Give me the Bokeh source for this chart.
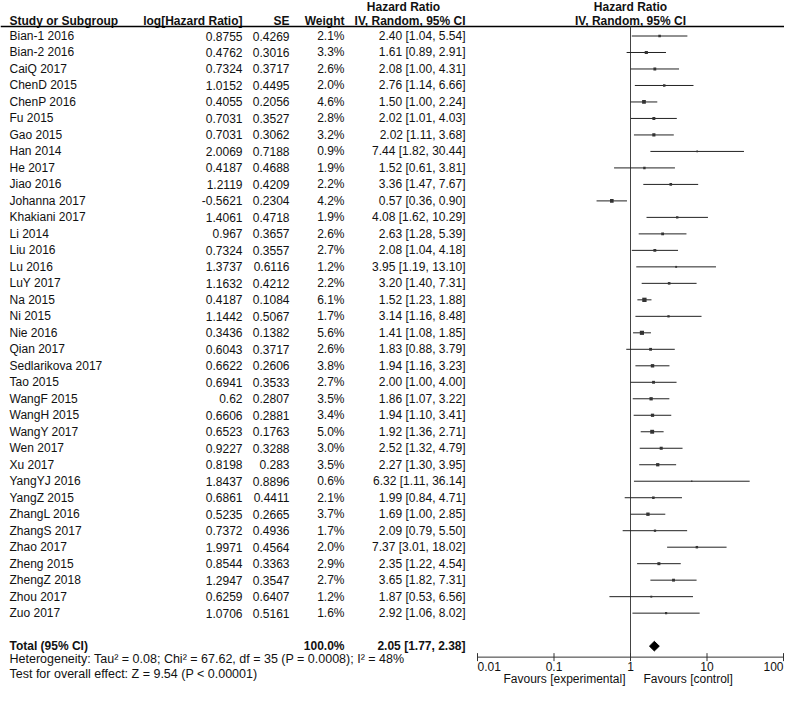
import numpy as np
from bokeh.plotting import figure
from bokeh.models import Range1d, LogScale, ColumnDataSource
from bokeh.core.properties import value
from bokeh.embed import file_html
from bokeh.resources import INLINE

# ---------------- data ----------------
studies = ["Bian-1 2016", "Bian-2 2016", "CaiQ 2017", "ChenD 2015", "ChenP 2016",
           "Fu 2015", "Gao 2015", "Han 2014", "He 2017", "Jiao 2016",
           "Johanna 2017", "Khakiani 2017", "Li 2014", "Liu 2016", "Lu 2016",
           "LuY 2017", "Na 2015", "Ni 2015", "Nie 2016", "Qian 2017",
           "Sedlarikova 2017", "Tao 2015", "WangF 2015", "WangH 2015", "WangY 2017",
           "Wen 2017", "Xu 2017", "YangYJ 2016", "YangZ 2015", "ZhangL 2016",
           "ZhangS 2017", "Zhao 2017", "Zheng 2015", "ZhengZ 2018", "Zhou 2017",
           "Zuo 2017"]
log_hr = [0.8755, 0.4762, 0.7324, 1.0152, 0.4055, 0.7031, 0.7031, 2.0069, 0.4187, 1.2119,
          -0.5621, 1.4061, 0.967, 0.7324, 1.3737, 1.1632, 0.4187, 1.1442, 0.3436, 0.6043,
          0.6622, 0.6941, 0.62, 0.6606, 0.6523, 0.9227, 0.8198, 1.8437, 0.6861, 0.5235,
          0.7372, 1.9971, 0.8544, 1.2947, 0.6259, 1.0706]
se = [0.4269, 0.3016, 0.3717, 0.4495, 0.2056, 0.3527, 0.3062, 0.7188, 0.4688, 0.4209,
      0.2304, 0.4718, 0.3657, 0.3557, 0.6116, 0.4212, 0.1084, 0.5067, 0.1382, 0.3717,
      0.2606, 0.3533, 0.2807, 0.2881, 0.1763, 0.3288, 0.283, 0.8896, 0.4411, 0.2665,
      0.4936, 0.4564, 0.3363, 0.3547, 0.6407, 0.5161]
weight = [2.1, 3.3, 2.6, 2.0, 4.6, 2.8, 3.2, 0.9, 1.9, 2.2,
          4.2, 1.9, 2.6, 2.7, 1.2, 2.2, 6.1, 1.7, 5.6, 2.6,
          3.8, 2.7, 3.5, 3.4, 5.0, 3.0, 3.5, 0.6, 2.1, 3.7,
          1.7, 2.0, 2.9, 2.7, 1.2, 1.6]
hr = [2.40, 1.61, 2.08, 2.76, 1.50, 2.02, 2.02, 7.44, 1.52, 3.36,
      0.57, 4.08, 2.63, 2.08, 3.95, 3.20, 1.52, 3.14, 1.41, 1.83,
      1.94, 2.00, 1.86, 1.94, 1.92, 2.52, 2.27, 6.32, 1.99, 1.69,
      2.09, 7.37, 2.35, 3.65, 1.87, 2.92]
ci_low = [1.04, 0.89, 1.00, 1.14, 1.00, 1.01, 1.11, 1.82, 0.61, 1.47,
          0.36, 1.62, 1.28, 1.04, 1.19, 1.40, 1.23, 1.16, 1.08, 0.88,
          1.16, 1.00, 1.07, 1.10, 1.36, 1.32, 1.30, 1.11, 0.84, 1.00,
          0.79, 3.01, 1.22, 1.82, 0.53, 1.06]
ci_high = [5.54, 2.91, 4.31, 6.66, 2.24, 4.03, 3.68, 30.44, 3.81, 7.67,
           0.90, 10.29, 5.39, 4.18, 13.10, 7.31, 1.88, 8.48, 1.85, 3.79,
           3.23, 4.00, 3.22, 3.41, 2.71, 4.79, 3.95, 36.14, 4.71, 2.85,
           5.50, 18.02, 4.54, 7.31, 6.56, 8.02]
total_weight = 100.0
total_hr, total_low, total_high = 2.05, 1.77, 2.38
heterogeneity = "Heterogeneity: Tau\u00b2 = 0.08; Chi\u00b2 = 67.62, df = 35 (P = 0.0008); I\u00b2 = 48%"
overall_effect = "Test for overall effect: Z = 9.54 (P < 0.00001)"
null_effect = 1.0
axis_ticks = [0.01, 0.1, 1, 10, 100]
axis_tick_labels = ["0.01", "0.1", "1", "10", "100"]
favours_left = "Favours [experimental]"
favours_right = "Favours [control]"

# ---------------- layout ----------------
W, H = 784, 687
ONE_X, DECADE = 630.0, 76.5
ROW0, ROW_H = 35.5, 16.49
HDR1_Y, HDR2_Y, RULE_Y = 6.5, 20.5, 26.0
FONT = value("Liberation Sans")
FS = "12px"
FS_NOTE = "12.5px"
TXT = "#111111"

n = len(studies)
rows = ROW0 + ROW_H * np.arange(n)
total_y = ROW0 + ROW_H * (n + 1)
axis_y = total_y + 11.0
het_y = axis_y + 2.0
test_y = het_y + 14.5
tick_label_y = axis_y + 9.5
favours_y = axis_y + 21.5

p = figure(width=W, height=H, output_backend="svg", toolbar_location=None,
           x_range=Range1d(0, W), y_range=Range1d(H, 0),
           x_axis_type=None, y_axis_type=None, min_border=0,
           outline_line_color=None)
p.extra_x_ranges = {"hr": Range1d(10 ** ((0 - ONE_X) / DECADE),
                                  10 ** ((W - ONE_X) / DECADE))}
p.extra_x_scales = {"hr": LogScale()}

src = ColumnDataSource(dict(
    study=studies,
    loghr=[str(v) for v in log_hr],
    se=[str(v) for v in se],
    wt=[f"{w:.1f}%" for w in weight],
    ci=[f"{h:.2f} [{l:.2f}, {u:.2f}]" for h, l, u in zip(hr, ci_low, ci_high)],
    hr=hr, lo=ci_low, hi=ci_high,
    size=[1.75 * np.sqrt(w) for w in weight],
    y=rows,
))


def col_text(x, field, align):
    p.text(x=x, y="y", text=field, source=src, text_font=FONT,
           text_font_size=FS, text_align=align, text_baseline="middle",
           text_color=TXT)


col_text(9, "study", "left")
col_text(242, "loghr", "right")
col_text(289, "se", "right")
col_text(344, "wt", "right")
col_text(465, "ci", "right")


def label(x, y, s, align="left", bold=False, range_name="default", size=FS):
    p.text(x=[x], y=[y], text=[s], text_font=FONT, text_font_size=size,
           text_align=align, text_baseline="middle", text_color=TXT,
           text_font_style="bold" if bold else "normal", x_range_name=range_name)


# header
label(403, HDR1_Y, "Hazard Ratio", "center", True)
label(null_effect, HDR1_Y, "Hazard Ratio", "center", True, "hr")
label(9, HDR2_Y, "Study or Subgroup", "left", True)
label(242, HDR2_Y, "log[Hazard Ratio]", "right", True)
label(289, HDR2_Y, "SE", "right", True)
label(344, HDR2_Y, "Weight", "right", True)
label(465, HDR2_Y, "IV, Random, 95% CI", "right", True)
label(null_effect, HDR2_Y, "IV, Random, 95% CI", "center", True, "hr")
p.hspan(y=[RULE_Y], line_color="black", line_width=1.5)

# totals and footnotes
label(9, total_y, "Total (95% CI)", "left", True)
label(344, total_y, f"{total_weight:.1f}%", "right", True)
label(465, total_y, f"{total_hr:.2f} [{total_low:.2f}, {total_high:.2f}]", "right", True)
label(9, het_y, heterogeneity, size=FS_NOTE)
label(9, test_y, overall_effect, size=FS_NOTE)

# forest
p.segment(x0=[null_effect], x1=[null_effect], y0=[RULE_Y], y1=[axis_y],
          x_range_name="hr", line_color="#444444", line_width=1)
p.segment(x0="lo", x1="hi", y0="y", y1="y", source=src, x_range_name="hr",
          line_color="#222222", line_width=1)
p.scatter(x="hr", y="y", size="size", marker="square", source=src,
          x_range_name="hr", fill_color="#333333", line_color=None)
dh = 4.8
p.patch(x=[total_low, total_hr, total_high, total_hr],
        y=[total_y, total_y - dh, total_y, total_y + dh],
        x_range_name="hr", fill_color="black", line_color="black")

# log axis of the forest (line, ticks, labels on the log scale)
p.segment(x0=[axis_ticks[0]], x1=[axis_ticks[-1]], y0=[axis_y], y1=[axis_y],
          x_range_name="hr", line_color="#333333", line_width=1)
p.segment(x0=axis_ticks, x1=axis_ticks, y0=[axis_y - 4] * len(axis_ticks),
          y1=[axis_y + 4] * len(axis_ticks), x_range_name="hr",
          line_color="#333333", line_width=1)
aligns = ["left"] + ["center"] * (len(axis_ticks) - 2) + ["right"]
for t, s, a in zip(axis_ticks, axis_tick_labels, aligns):
    label(t, tick_label_y, s, a, False, "hr")

label(625, favours_y, favours_left, "right")
label(643, favours_y, favours_right, "left")

open("out.html", "w").write(file_html(p, INLINE))
